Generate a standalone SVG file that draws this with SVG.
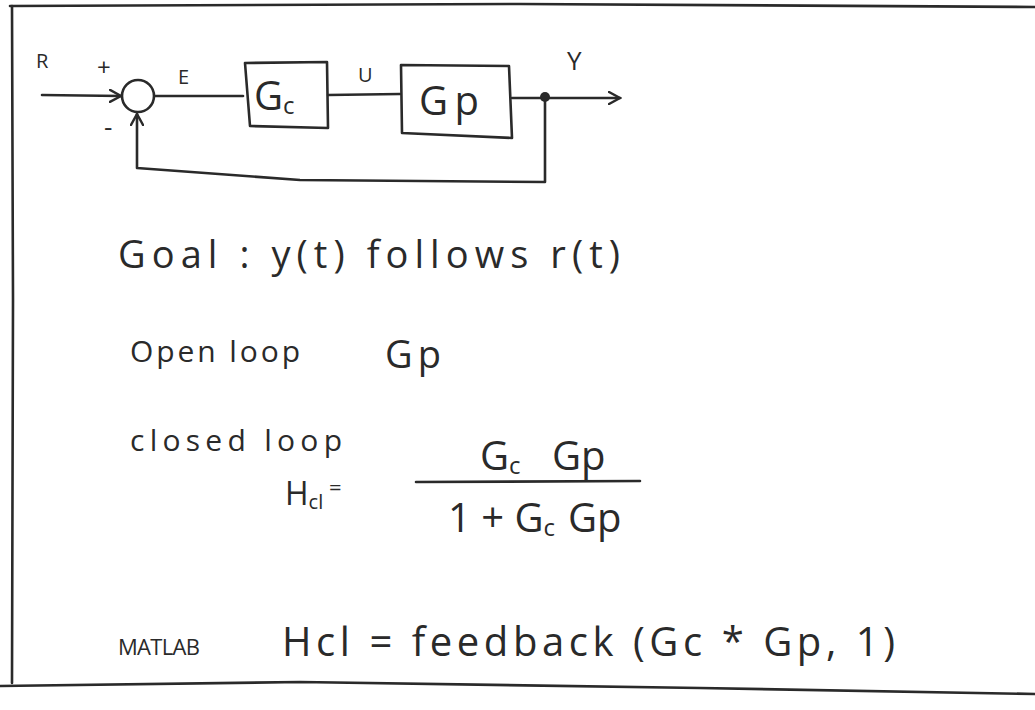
<svg xmlns="http://www.w3.org/2000/svg" width="1035" height="710" viewBox="0 0 1035 710">
<defs>
<style>
.ln{fill:none;stroke:#2a2a2a;stroke-width:2.6;stroke-linecap:round;stroke-linejoin:round}
.t{font-family:"Open Sans","Liberation Sans",sans-serif;fill:#2a2a2a}
</style>
<marker id="ah" markerWidth="14" markerHeight="14" refX="12" refY="7" orient="auto" markerUnits="userSpaceOnUse">
<path d="M1,1 L12,7 L1,13" fill="none" stroke="#2a2a2a" stroke-width="2.4" stroke-linecap="round"/>
</marker>
</defs>
<rect width="1035" height="710" fill="#ffffff"/>
<g id="frame">
<path class="ln" d="M10,6 L520,4 L1035,7"/>
<path class="ln" d="M12,6 L13,300 L12,683"/>
<path class="ln" d="M0,686 L300,682 L700,688 L1035,694"/>
</g>
<g id="connectors">
<path class="ln" d="M42,95 L121,96" marker-end="url(#ah)"/>
<path class="ln" d="M155,96 L243,96"/>
<path class="ln" d="M328,95 L400,94"/>
<path class="ln" d="M512,98 L620,98" marker-end="url(#ah)"/>
<path class="ln" d="M545,98 L545,182 L300,180 L137,168 L137,114" marker-end="url(#ah)"/>
</g>
<g id="sum">
<circle class="ln" cx="138" cy="96" r="16"/>
<text class="t" x="97" y="76" font-size="24">+</text>
<text class="t" x="104" y="136" font-size="26">-</text>
</g>
<g id="gc">
<path class="ln" d="M245,63 L327,62 L328,128 L250,126 Z"/>
<text class="t" x="254" y="110" font-size="40">G<tspan font-size="24" dy="4">c</tspan></text>
</g>
<g id="gp">
<path class="ln" d="M401,65 L509,66 L512,138 L402,133 Z"/>
<text class="t" x="419" y="115" font-size="40" textLength="60" lengthAdjust="spacing">Gp</text>
</g>
<g id="y-node">
<circle cx="545" cy="97" r="5" fill="#2a2a2a"/>
</g>
<g id="labels">
<text class="t" x="36" y="68" font-size="20">R</text>
<text class="t" x="178" y="84" font-size="20">E</text>
<text class="t" x="358" y="82" font-size="20">U</text>
<text class="t" x="567" y="70" font-size="26">Y</text>
</g>
<g id="notes">
<text class="t" x="118" y="268" font-size="38" textLength="502" lengthAdjust="spacing">Goal :  y(t)  follows  r(t)</text>
<text class="t" x="130" y="362" font-size="30" textLength="170" lengthAdjust="spacing">Open loop</text>
<text class="t" x="385" y="368" font-size="38" textLength="56" lengthAdjust="spacing">Gp</text>
<text class="t" x="130" y="451" font-size="30" textLength="212" lengthAdjust="spacing">closed loop</text>
<text class="t" x="285" y="505" font-size="32">H<tspan font-size="20" dy="4">cl</tspan><tspan dy="-14" font-size="22"> =</tspan></text>
<text class="t" x="480" y="470" font-size="40">G<tspan font-size="24" dy="4">c</tspan><tspan x="552" dy="-4">Gp</tspan></text>
<path class="ln" d="M416,482 L640,481"/>
<text class="t" x="448" y="532" font-size="40">1 + G<tspan font-size="24" dy="4">c</tspan><tspan x="568" dy="-4">Gp</tspan></text>
<text class="t" x="118" y="655" font-size="22" textLength="82" lengthAdjust="spacing">MATLAB</text>
<text class="t" x="282" y="656" font-size="40" textLength="613" lengthAdjust="spacing">Hcl = feedback (Gc * Gp, 1)</text>
</g>
</svg>
